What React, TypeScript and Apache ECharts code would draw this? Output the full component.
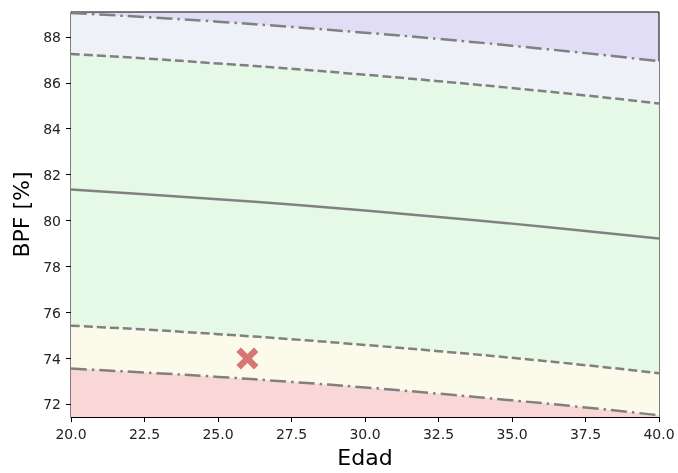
import React, { useEffect, useRef } from "react";
import * as echarts from "echarts";

const edad = [20, 22.5, 25, 27.5, 30, 32.5, 35, 37.5, 40];
const upperDashDot = [89.04, 88.86, 88.66, 88.43, 88.18, 87.91, 87.61, 87.29, 86.94];
const upperDashed = [87.25, 87.06, 86.84, 86.61, 86.35, 86.07, 85.77, 85.45, 85.1];
const centerLine = [81.35, 81.15, 80.93, 80.7, 80.44, 80.16, 79.87, 79.55, 79.22];
const lowerDashed = [75.43, 75.26, 75.06, 74.84, 74.59, 74.32, 74.03, 73.71, 73.36];
const lowerDashDot = [73.56, 73.39, 73.2, 72.98, 72.74, 72.47, 72.18, 71.87, 71.53];
const patient = [26.0, 74.0];
const yTicks = [72, 74, 76, 78, 80, 82, 84, 86, 88];

const FONT = "DejaVu Sans";

export default function App() {
  const ref = useRef<HTMLDivElement>(null);
  useEffect(() => {
    if (!ref.current) return;
    const chart = echarts.init(ref.current, null, { renderer: "svg" });
    const pair = (ys: number[]) => edad.map((x, i) => [x, ys[i]]);
    const area = (name: string, ys: number[], color: string) => ({
      name,
      type: "line",
      data: pair(ys),
      smooth: true,
      symbol: "none",
      lineStyle: { width: 0 },
      areaStyle: { color, opacity: 1, origin: "start" },
      silent: true,
      z: 1,
    });
    const line = (name: string, ys: number[], type: any) => ({
      name,
      type: "line",
      data: pair(ys),
      smooth: true,
      symbol: "none",
      lineStyle: { color: "#808080", width: 2.5, type },
      z: 3,
    });
    chart.setOption({
      animation: false,
      grid: {
        left: 71,
        right: 19,
        top: 12,
        bottom: 52,
        show: true,
        backgroundColor: "#e1ddf4",
        borderColor: "#000",
        borderWidth: 1,
        z: 0,
      },
      xAxis: {
        type: "value",
        min: 20,
        max: 40,
        interval: 2.5,
        name: "Edad",
        nameLocation: "middle",
        nameGap: 28,
        nameTextStyle: { fontFamily: FONT, fontSize: 22, color: "#000" },
        axisLine: { show: true, lineStyle: { color: "#000", width: 1 } },
        axisTick: { show: true, length: 5, lineStyle: { color: "#000" } },
        axisLabel: {
          fontFamily: FONT,
          fontSize: 14,
          color: "#222",
          margin: 10,
          formatter: (v: number) => v.toFixed(1),
        },
        splitLine: { show: false },
      },
      yAxis: {
        type: "value",
        min: 71.45,
        max: 89.08,
        name: "BPF [%]",
        nameLocation: "middle",
        nameGap: 36,
        nameTextStyle: { fontFamily: FONT, fontSize: 22, color: "#000" },
        axisLine: { show: true, lineStyle: { color: "#000", width: 1 } },
        axisTick: { show: true, length: 5, lineStyle: { color: "#000" }, customValues: yTicks },
        axisLabel: {
          fontFamily: FONT,
          fontSize: 14,
          color: "#222",
          margin: 10,
          customValues: yTicks,
          formatter: (v: number) => String(v),
        },
        splitLine: { show: false },
      },
      series: [
        area("bluegray", upperDashDot, "#eef1f7"),
        area("green", upperDashed, "#e6f9e7"),
        area("yellow", lowerDashed, "#fcfaea"),
        area("pink", lowerDashDot, "#f9d7d7"),
        line("upperDashDot", upperDashDot, [16, 5, 2.5, 5]),
        line("upperDashed", upperDashed, [9, 4]),
        line("center", centerLine, "solid"),
        line("lowerDashed", lowerDashed, [9, 4]),
        line("lowerDashDot", lowerDashDot, [16, 5, 2.5, 5]),
        {
          name: "paciente",
          type: "scatter",
          data: [patient],
          symbol:
            "path://M0,2 L2,0 L5,3 L8,0 L10,2 L7,5 L10,8 L8,10 L5,7 L2,10 L0,8 L3,5 Z",
          symbolSize: 22,
          itemStyle: { color: "#cd5656" },
          z: 5,
        },
      ],
    });
    return () => chart.dispose();
  }, []);
  return (
    <div
      ref={ref}
      style={{ position: "fixed", left: 0, top: 0, width: 678, height: 473 }}
    />
  );
}
